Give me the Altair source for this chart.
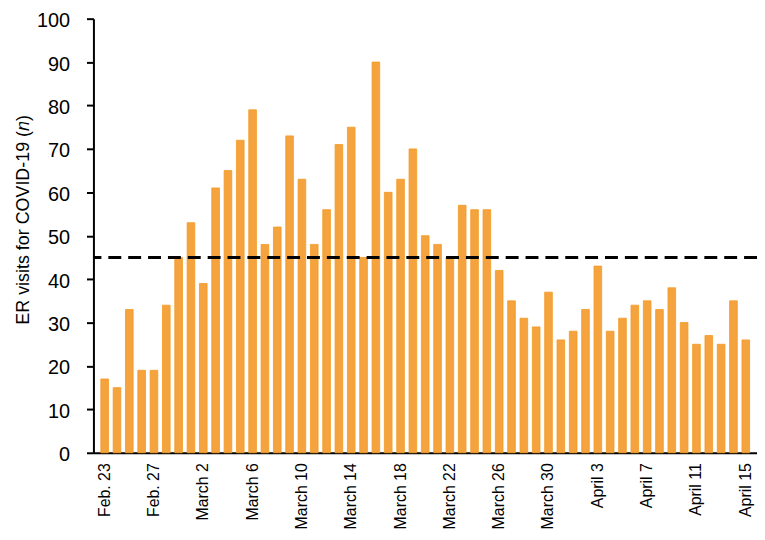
import altair as alt
import pandas as pd

# Categories (days) and values
days = (["Feb. %d" % d for d in range(23, 30)]
        + ["March %d" % d for d in range(1, 32)]
        + ["April %d" % d for d in range(1, 16)])
visits = [17, 15, 33, 19, 19, 34, 45,
          53, 39, 61, 65, 72, 79, 48, 52, 73, 63, 48, 56, 71, 75, 45, 90, 60, 63,
          70, 50, 48, 45, 57, 56, 56, 42, 35, 31, 29, 37, 26,
          28, 33, 43, 28, 31, 34, 35, 33, 38, 30, 25, 27, 25, 35, 26]
tick_labels = days[::4]
threshold = [45]
y_ticks = list(range(0, 101, 5))

df = pd.DataFrame({"day": days, "visits": visits})
thr = pd.DataFrame({"threshold": threshold})

FONT = "Liberation Sans"

bars = alt.Chart(df).mark_bar(
    color="#F5A33F", stroke="#F29A22", strokeWidth=0.8
).encode(
    x=alt.X("day:N", sort=days,
            scale=alt.Scale(paddingInner=0.38, paddingOuter=0.6),
            axis=alt.Axis(values=tick_labels, labelAngle=-90, ticks=False,
                          labelPadding=10, labelFontSize=16, labelFont=FONT,
                          labelColor="black", domainColor="black",
                          domainWidth=2, title=None, labelLimit=200)),
    y=alt.Y("visits:Q",
            scale=alt.Scale(domain=[0, 100], nice=False),
            axis=alt.Axis(values=y_ticks,
                          labelExpr="datum.value % 10 === 0 ? datum.label : ''",
                          grid=False, tickSize=7, tickWidth=2, tickColor="black",
                          domainColor="black", domainWidth=2,
                          labelFontSize=20, labelFont=FONT, labelColor="black",
                          labelPadding=17, labelOffset=2,
                          title="ER visits for COVID-19 (\U0001D45B)",
                          titleFont=FONT, titleFontSize=18,
                          titleFontWeight="normal", titleColor="black",
                          titlePadding=4, titleY=202)),
)

rule = alt.Chart(thr).mark_rule(
    color="black", strokeWidth=3, strokeDash=[13, 7]
).encode(y="threshold:Q")

chart = alt.layer(bars, rule).properties(
    width=668, height=437,
    autosize=alt.AutoSizeParams(type="none"),
    padding={"left": 86, "top": 9, "right": 0, "bottom": 78},
    background="white",
).configure_view(stroke=None)

chart.save("out.html", embed_options={"renderer": "svg", "actions": False})
